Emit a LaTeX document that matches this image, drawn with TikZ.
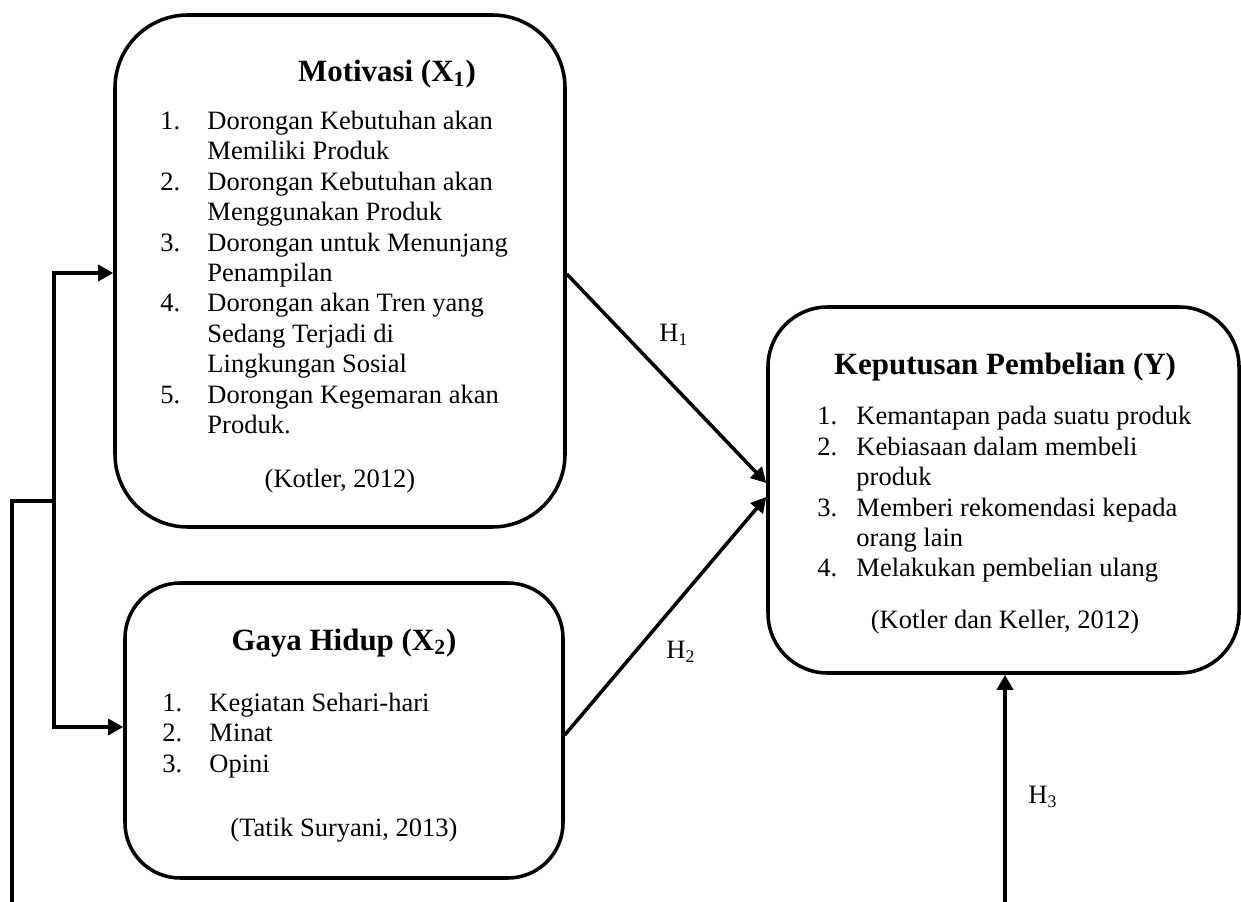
\documentclass[tikz,border=0pt]{standalone}
\usepackage{fontspec}
\setmainfont{Liberation Serif}
\usetikzlibrary{arrows.meta,calc}
\newcommand\pxunit{0.4528pt}
\begin{document}
\begin{tikzpicture}[x=0.4528pt,y=-0.4528pt,
  box/.style={draw,line width=1.6pt,rounded corners=#1,inner sep=0pt},
  conn/.style={line width=1.6pt},
  arr/.style={line width=1.6pt,-{Triangle[length=6.8pt,width=7.2pt]}},
  txt/.style={anchor=base west,inner sep=0pt,font=\fontsize{12}{13.8}\selectfont},
  ctr/.style={anchor=base,inner sep=0pt,font=\fontsize{12}{13.8}\selectfont},
  ttl/.style={anchor=base,inner sep=0pt,font=\fontsize{14}{16}\selectfont\bfseries},
  hlab/.style={inner sep=0pt,font=\fontsize{12}{13.8}\selectfont}]
\useasboundingbox (0,0) rectangle (1241,902);

% boxes
\node[box=33pt, minimum width=450*\pxunit, minimum height=512*\pxunit] (x1) at (340,271) {};
\node[box=25pt, minimum width=438*\pxunit, minimum height=295*\pxunit] (x2) at (344,730.5) {};
\node[box=27pt, minimum width=471*\pxunit, minimum height=366*\pxunit] (yb) at (1003.5,490) {};

% X1 texts
\node[ttl] (x1title) at (387,82) {Motivasi (X\textsubscript{1})};
\node[txt] (x1n1) at (160,130) {1.};
\node[txt] (x1n2) at (160,191) {2.};
\node[txt] (x1n3) at (160,252) {3.};
\node[txt] (x1n4) at (160,312) {4.};
\node[txt] (x1n5) at (160,404) {5.};
\node[txt] (x1a) at (207,130) {Dorongan Kebutuhan akan};
\node[txt] (x1b) at (207,160) {Memiliki Produk};
\node[txt] (x1c) at (207,191) {Dorongan Kebutuhan akan};
\node[txt] (x1d) at (207,221) {Menggunakan Produk};
\node[txt] (x1e) at (207,252) {Dorongan untuk Menunjang};
\node[txt] (x1f) at (207,282) {Penampilan};
\node[txt] (x1g) at (207,312) {Dorongan akan Tren yang};
\node[txt] (x1h) at (207,343) {Sedang Terjadi di};
\node[txt] (x1i) at (207,373) {Lingkungan Sosial};
\node[txt] (x1j) at (207,404) {Dorongan Kegemaran akan};
\node[txt] (x1k) at (207,434) {Produk.};
\node[ctr] (x1src) at (340,488) {(Kotler, 2012)};

% X2 texts
\node[ttl] (x2title) at (344,650) {Gaya Hidup (X\textsubscript{2})};
\node[txt] (x2n1) at (162,711) {1.};
\node[txt] (x2n2) at (162,741) {2.};
\node[txt] (x2n3) at (162,772) {3.};
\node[txt] (x2a) at (209,711) {Kegiatan Sehari-hari};
\node[txt] (x2b) at (209,741) {Minat};
\node[txt] (x2c) at (209,772) {Opini};
\node[ctr] (x2src) at (344,836) {(Tatik Suryani, 2013)};

% Y texts
\node[ttl] (ytitle) at (1005,375) {Keputusan Pembelian (Y)};
\node[txt] (yn1) at (817,425) {1.};
\node[txt] (yn2) at (817,455.4) {2.};
\node[txt] (yn3) at (817,516.2) {3.};
\node[txt] (yn4) at (817,577) {4.};
\node[txt] (ya) at (856,425) {Kemantapan pada suatu produk};
\node[txt] (yb1) at (856,455.4) {Kebiasaan dalam membeli};
\node[txt] (yc) at (856,485.8) {produk};
\node[txt] (yd) at (856,516.2) {Memberi rekomendasi kepada};
\node[txt] (ye) at (856,546.6) {orang lain};
\node[txt] (yf) at (856,577) {Melakukan pembelian ulang};
\node[ctr] (ysrc) at (1005,628) {(Kotler dan Keller, 2012)};

% connectors
\coordinate (src) at (12,902);
\coordinate (j) at (54,501);
\coordinate (h3src) at (1005,902);
\draw[conn] (src) |- (j);
\draw[arr] (j) |- ($(x1.west)+(0,2)$);
\draw[arr] (j) |- ($(x2.west)+(0,-3.5)$);
\draw[arr] ($(x1.east)+(0,3)$) -- ($(yb.west)+(0,-7)$);
\draw[arr] ($(x2.east)+(0,4.5)$) -- ($(yb.west)+(0,7)$);
\draw[arr] (h3src) -- (h3src |- yb.south);

% labels
\node[hlab] (h1) at (674,335) {H\textsubscript{1}};
\node[hlab] (h2) at (681,652) {H\textsubscript{2}};
\node[hlab] (h3) at (1043,797) {H\textsubscript{3}};
\end{tikzpicture}
\end{document}
